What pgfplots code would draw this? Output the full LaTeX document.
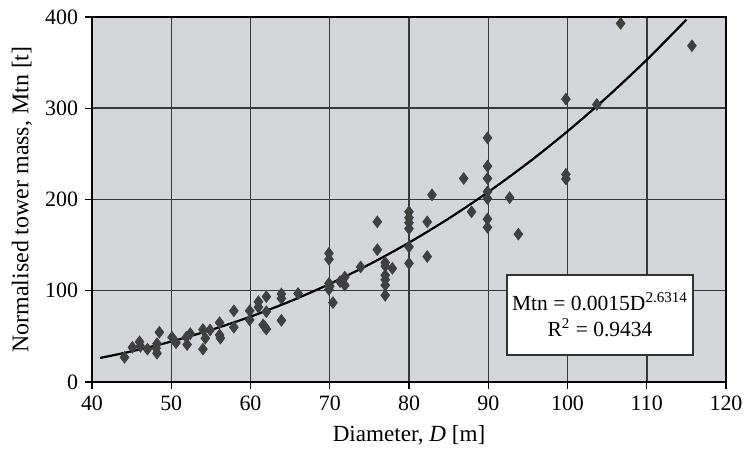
\documentclass[border=0pt]{standalone}
\usepackage{pgfplots}
\pgfplotsset{compat=1.18}
\usepackage{fontspec}
\setmainfont{Liberation Serif}
\definecolor{plotbg}{RGB}{212,213,216}
\definecolor{markgray}{RGB}{64,64,64}
\begin{document}
\begin{tikzpicture}
\begin{axis}[
  name=ax,
  scale only axis,
  width=317bp, height=182.5bp,
  xmin=40, xmax=120, ymin=0, ymax=400,
  xtick={40,50,...,120}, ytick={0,100,...,400},
  /pgf/number format/assume math mode=true,
  tick align=outside, tick pos=left,
  major tick length=3.5pt,
  every tick/.style={black, line width=0.6pt},
  tick label style={font=\fontsize{11}{13}\selectfont},
  grid=major,
  major grid style={draw=black!78, line width=0.75pt},
  axis line style={black, line width=0.7pt},
  axis background/.style={fill=plotbg},
  xlabel={Diameter, \textit{D} [m]},
  ylabel={Normalised tower mass, Mtn [t]},
  every axis x label/.style={at={(axis description cs:0.5,-0.145)}, anchor=center, font=\fontsize{11.6}{14}\selectfont},
  every axis y label/.style={at={(axis description cs:-0.1104,0.5)}, anchor=center, rotate=90, font=\fontsize{12}{14}\selectfont},
  clip=false,
]
\addplot[only marks, mark=diamond*, mark size=2.9pt, color=markgray, fill=markgray] coordinates {
(44.1,27) (45.1,38) (46.0,44) (46.1,39) (47.0,36) (48.1,37) (48.2,31.5) (48.2,42)
(48.5,54.5) (50.1,49) (50.6,43) (51.9,49) (52.0,41) (52.4,53) (54.0,57.5) (54.3,48)
(54.0,36) (54.9,57) (56.1,65) (56.1,51.5) (56.2,48) (57.9,78) (57.9,60) (59.9,78)
(59.9,68) (61.0,88) (61.0,82) (62.0,93.5) (62.0,77) (61.6,62.5) (61.8,60.5) (62.0,58)
(63.9,96.5) (63.9,91.5) (63.9,67.5) (66.0,97) (69.9,141) (69.9,134.5) (69.9,108)
(69.9,101.5) (70.0,105) (70.4,87) (71.3,110) (71.9,115) (71.9,106) (73.9,126)
(76.0,175.5) (76.0,145) (77.0,131) (77.0,127) (77.0,117) (77.0,112) (77.0,106)
(77.0,95) (77.9,124.5) (80.0,186.5) (80.0,180) (80.0,174.5) (80.0,168) (80.0,148)
(80.0,130) (82.3,175.5) (82.3,137.5) (82.9,205) (86.9,223) (87.9,186.5) (89.9,267.5)
(89.9,236.5) (89.9,223) (89.9,208.5) (89.9,201) (89.9,178.5) (89.9,169.5) (92.7,202)
(93.8,162) (99.8,310) (99.8,227.5) (99.8,222.5) (103.7,304) (106.7,393) (115.7,368.5)
};
\addplot[black, line width=1.1pt, smooth] coordinates {
(41,26.3) (45,33.6) (50,44.3) (55,57.0) (60,71.6) (65,88.4) (70,107.5) (75,128.9)
(80,152.7) (85,179.1) (90,208.2) (95,240.0) (100,274.7) (105,312.3) (110,353.1) (115,397)
};
\node[draw=black!80, line width=0.6pt, fill=white, align=center, minimum width=93bp, minimum height=40bp, inner sep=2pt, font=\fontsize{10.8}{13}\selectfont]
  at (axis cs:104.1,73.4) {Mtn = 0.0015D\textsuperscript{2.6314}\\R\textsuperscript{2} = 0.9434};
\end{axis}
\pgfresetboundingbox
\path ([shift={(-46bp,-34.5bp)}]ax.south west) rectangle ([shift={(9bp,8.5bp)}]ax.north east);
\end{tikzpicture}
\end{document}
